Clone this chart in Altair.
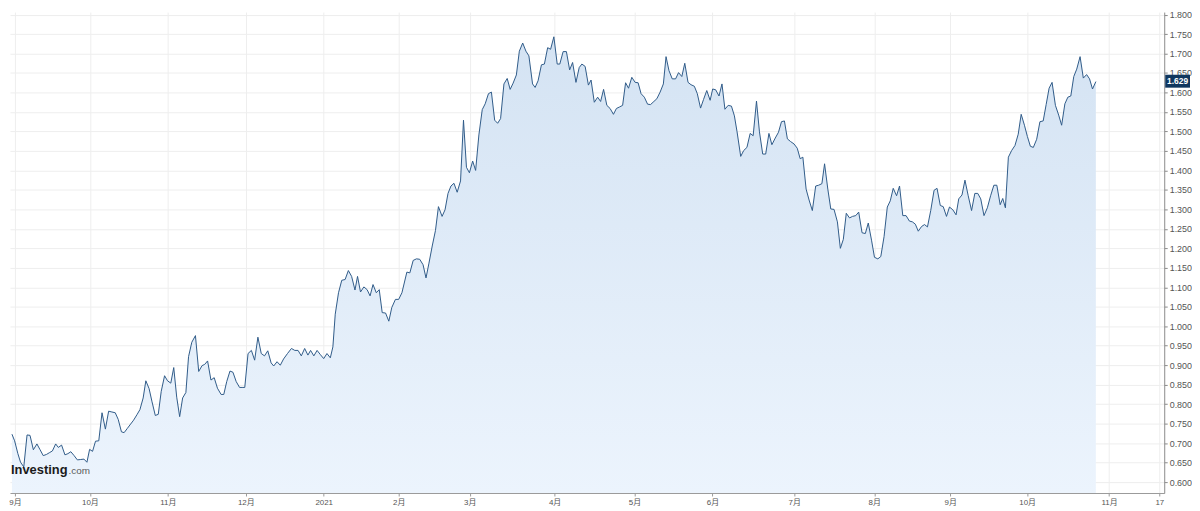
import json
import altair as alt
import pandas as pd

# Trading-session position (chart time units) and 10Y yield (%)
t = [4.0, 6.7, 10.0, 12.7, 16.0, 19.3, 22.3, 25.7, 29.3, 32.3, 35.7, 39.0, 42.3, 45.0, 48.3, 51.0, 54.3, 57.7, 60.7, 63.7,
     67.0, 70.3, 73.7, 77.0, 80.0, 82.7, 85.7, 88.7, 92.0, 95.3, 98.7, 102.0, 105.3, 108.7, 111.7, 115.0, 117.7, 121.0, 124.3, 127.3,
     130.7, 133.7, 137.0, 139.7, 143.0, 146.0, 149.3, 152.3, 155.3, 158.7, 161.7, 165.0, 168.0, 171.0, 174.0, 177.0, 180.3, 183.0, 186.3, 190.0,
     193.3, 196.7, 199.3, 202.3, 205.7, 209.0, 212.3, 216.0, 218.7, 221.7, 225.0, 228.0, 231.3, 234.7, 237.3, 240.0, 243.3, 246.7, 250.0, 253.3,
     256.7, 260.0, 263.3, 266.7, 269.3, 272.7, 276.0, 279.3, 283.3, 287.3, 290.7, 294.0, 297.3, 300.7, 304.0, 306.7, 310.0, 313.3, 316.7, 320.0,
     323.3, 326.7, 329.3, 331.7, 335.0, 338.3, 341.7, 345.0, 348.3, 351.7, 354.3, 357.3, 360.7, 364.0, 367.0, 370.0, 373.3, 376.3, 379.3, 382.7,
     386.0, 389.0, 392.7, 396.0, 399.3, 404.3, 407.3, 410.7, 414.0, 417.3, 420.7, 423.7, 426.7, 430.0, 433.3, 436.3, 440.0, 443.0, 446.0, 449.0,
     452.0, 455.3, 458.7, 461.7, 464.7, 467.7, 471.0, 474.0, 477.3, 480.7, 483.7, 487.0, 490.0, 493.3, 496.3, 499.3, 502.7, 506.0, 509.0, 512.0,
     515.3, 518.3, 521.7, 525.0, 528.0, 531.7, 534.3, 537.3, 540.7, 543.7, 547.0, 550.0, 553.3, 556.7, 559.3, 562.7, 566.0, 569.3, 572.3, 575.7,
     579.0, 581.7, 585.0, 588.3, 591.0, 594.3, 597.7, 600.7, 603.7, 607.0, 610.3, 613.7, 616.7, 620.0, 623.0, 626.0, 629.0, 632.3, 635.7, 638.7,
     641.7, 645.0, 648.3, 651.3, 654.7, 657.7, 661.0, 664.3, 667.0, 670.0, 673.3, 676.7, 679.7, 683.0, 686.0, 689.3, 692.3, 695.7, 698.7, 702.0,
     705.0, 708.3, 711.7, 714.3, 717.3, 720.7, 723.7, 726.7, 730.0, 733.3, 736.3, 739.0, 742.7, 745.7, 749.0, 752.3, 755.3, 758.7, 761.7, 765.0,
     768.0, 771.3, 774.3, 777.7, 781.0, 784.0, 787.0, 790.0, 793.3, 796.7, 800.0, 803.0, 805.7, 809.0, 812.0, 815.3, 818.7, 821.7, 825.0, 827.7,
     831.0, 834.0, 837.3, 840.7, 843.7, 846.7, 849.7, 853.0, 856.0, 859.3, 862.3, 865.7, 869.0, 872.0, 875.3, 878.3, 881.7, 884.7, 888.0, 891.3,
     894.3, 897.3, 900.7, 903.7, 907.0, 910.3, 913.7, 916.7, 919.7, 922.7, 926.0, 929.0, 932.0, 935.3, 938.7, 941.7, 945.0, 948.0, 951.3, 954.3,
     957.7, 961.0, 963.7, 967.0, 970.0, 973.3, 976.7, 980.0, 983.0, 986.0, 989.3, 992.7, 996.0, 999.3, 1002.3, 1005.7, 1008.3, 1011.0, 1014.0, 1017.3,
     1020.7, 1024.0, 1027.0, 1030.3, 1033.3, 1036.3, 1039.3, 1042.7, 1046.0, 1049.3, 1052.3, 1055.3, 1058.3, 1061.7, 1065.0, 1068.0, 1071.3, 1074.3, 1077.3, 1080.3,
     1083.3, 1086.7, 1090.0, 1093.3, 1096.3, 1099.3, 1102.7]

yld = [0.723, 0.706, 0.673, 0.651, 0.639, 0.721, 0.720, 0.683, 0.698, 0.684, 0.668, 0.671, 0.676, 0.680, 0.698, 0.689, 0.695, 0.670, 0.673, 0.678,
       0.668, 0.657, 0.658, 0.659, 0.651, 0.684, 0.679, 0.705, 0.706, 0.778, 0.736, 0.782, 0.780, 0.778, 0.761, 0.729, 0.727, 0.738, 0.749, 0.759,
       0.773, 0.786, 0.816, 0.860, 0.840, 0.806, 0.771, 0.774, 0.833, 0.873, 0.860, 0.854, 0.894, 0.818, 0.768, 0.816, 0.830, 0.922, 0.959, 0.976,
       0.884, 0.899, 0.902, 0.911, 0.862, 0.868, 0.841, 0.825, 0.825, 0.858, 0.885, 0.882, 0.858, 0.843, 0.843, 0.843, 0.930, 0.938, 0.913, 0.972,
       0.930, 0.924, 0.937, 0.906, 0.898, 0.909, 0.900, 0.916, 0.930, 0.943, 0.938, 0.938, 0.924, 0.943, 0.926, 0.938, 0.924, 0.938, 0.927, 0.917,
       0.930, 0.919, 0.947, 1.031, 1.086, 1.118, 1.120, 1.143, 1.128, 1.093, 1.128, 1.088, 1.101, 1.094, 1.078, 1.107, 1.086, 1.094, 1.035, 1.034,
       1.013, 1.048, 1.069, 1.069, 1.086, 1.139, 1.137, 1.169, 1.173, 1.172, 1.158, 1.124, 1.162, 1.206, 1.246, 1.307, 1.282, 1.299, 1.341, 1.360,
       1.367, 1.344, 1.373, 1.529, 1.408, 1.394, 1.424, 1.400, 1.491, 1.556, 1.571, 1.597, 1.601, 1.529, 1.521, 1.533, 1.622, 1.636, 1.608, 1.624,
       1.645, 1.706, 1.727, 1.706, 1.694, 1.622, 1.613, 1.630, 1.671, 1.673, 1.715, 1.711, 1.743, 1.673, 1.673, 1.705, 1.705, 1.658, 1.677, 1.626,
       1.664, 1.673, 1.667, 1.619, 1.632, 1.575, 1.588, 1.577, 1.608, 1.567, 1.559, 1.544, 1.559, 1.563, 1.567, 1.625, 1.611, 1.639, 1.626, 1.625,
       1.597, 1.588, 1.570, 1.569, 1.577, 1.584, 1.601, 1.622, 1.692, 1.656, 1.635, 1.635, 1.651, 1.641, 1.675, 1.626, 1.620, 1.616, 1.597, 1.560,
       1.582, 1.605, 1.580, 1.609, 1.607, 1.591, 1.622, 1.557, 1.567, 1.565, 1.540, 1.499, 1.436, 1.451, 1.459, 1.495, 1.489, 1.578, 1.499, 1.442,
       1.442, 1.495, 1.466, 1.483, 1.498, 1.525, 1.527, 1.481, 1.474, 1.468, 1.457, 1.430, 1.434, 1.352, 1.324, 1.297, 1.360, 1.362, 1.366, 1.417,
       1.352, 1.301, 1.300, 1.268, 1.200, 1.223, 1.290, 1.278, 1.282, 1.284, 1.293, 1.240, 1.238, 1.265, 1.221, 1.177, 1.173, 1.179, 1.230, 1.306,
       1.322, 1.354, 1.335, 1.360, 1.284, 1.284, 1.270, 1.268, 1.262, 1.244, 1.256, 1.261, 1.255, 1.297, 1.349, 1.354, 1.310, 1.307, 1.282, 1.306,
       1.299, 1.286, 1.327, 1.337, 1.375, 1.335, 1.297, 1.341, 1.341, 1.327, 1.284, 1.304, 1.335, 1.362, 1.362, 1.312, 1.328, 1.304, 1.434, 1.451,
       1.464, 1.493, 1.544, 1.516, 1.487, 1.462, 1.459, 1.480, 1.525, 1.527, 1.569, 1.611, 1.626, 1.567, 1.542, 1.516, 1.571, 1.588, 1.591, 1.641,
       1.660, 1.692, 1.637, 1.646, 1.635, 1.609, 1.628]

# Month boundaries on the time axis and their labels
month_t = [7, 83, 162, 241, 320, 396, 468, 554, 635, 714, 797, 878, 955, 1033, 1116, 1167]
month_labels = ["9月", "10月", "11月", "12月", "2021", "2月", "3月", "4月", "5月", "6月",
                "7月", "8月", "9月", "10月", "11月", "17"]

y_ticks = [round(0.6 + 0.05 * i, 3) for i in range(25)]
last_value = 1.629

X_DOMAIN = [2, 1172]
Y_DOMAIN = [0.5720, 1.8064]
W, H = 1164, 485

df = pd.DataFrame({"t": t, "y": yld})

FONT = "Liberation Sans, Arial, 'Noto Sans CJK SC', sans-serif"

label_expr = "{}[indexof({}, datum.value)]".format(
    json.dumps(month_labels, ensure_ascii=False), json.dumps(month_t))

x_scale = alt.Scale(domain=X_DOMAIN, nice=False, zero=False)
y_scale = alt.Scale(domain=Y_DOMAIN, nice=False, zero=False)

x_axis = alt.Axis(
    values=month_t, labelExpr=label_expr, title=None, grid=True,
    gridColor="#eeeeee", gridWidth=1, domainColor="#9a9a9a",
    tickColor="#9a9a9a", tickSize=3, labelFontSize=8, labelColor="#555555",
    labelFont=FONT, labelPadding=3, labelFlush=False, labelOverlap=False,
    labelFontWeight={"expr": "datum.label == '2021' ? 'bold' : 'normal'"},
)
y_axis = alt.Axis(
    orient="right", values=y_ticks, format=".3f", title=None, grid=True,
    gridColor="#eeeeee", gridWidth=1, domainColor="#8a8a8a",
    tickColor="#8a8a8a", tickSize=3, labelFontSize=9, labelColor="#555555",
    labelFont=FONT, labelPadding=2, labelFlush=False, labelOverlap=False,
    tickCount=len(y_ticks),
)

x_enc = alt.X("t:Q", scale=x_scale, axis=x_axis)
y_enc = alt.Y("y:Q", scale=y_scale, axis=y_axis)

gradient = alt.Gradient(
    gradient="linear",
    stops=[alt.GradientStop(color="#ecf4fd", offset=0),
           alt.GradientStop(color="#d4e3f3", offset=1)],
    x1=1, x2=1, y1=1, y2=0,
)

base = alt.Chart(df)
area = base.mark_area(color=gradient, clip=True).encode(
    x=x_enc, y=y_enc, y2=alt.Y2(datum=Y_DOMAIN[0])
)
line = base.mark_line(color="#2f5a88", strokeWidth=1, clip=True).encode(
    x=x_enc, y=y_enc
)

last_df = pd.DataFrame({"y": [last_value], "hi": [last_value + 0.0166],
                        "lo": [last_value - 0.0166], "txt": [f"{last_value:.3f}"]})
box = alt.Chart(last_df).mark_rect(color="#10375f").encode(
    x=alt.value(W + 1), x2=alt.value(W + 26),
    y=alt.Y("hi:Q", scale=y_scale, axis=y_axis), y2="lo:Q"
)
box_txt = alt.Chart(last_df).mark_text(
    color="white", fontSize=8.5, fontWeight="bold", font=FONT, align="center", baseline="middle"
).encode(x=alt.value(W + 13.5), y=y_enc, text="txt:N")

logo_df = pd.DataFrame({"a": ["Investing"], "b": [".com"]})
logo1 = alt.Chart(logo_df).mark_text(
    fontSize=13, fontWeight="bold", font=FONT, color="#1b1b1b", align="left", baseline="alphabetic"
).encode(x=alt.value(1), y=alt.value(466), text="a:N")
logo2 = alt.Chart(logo_df).mark_text(
    fontSize=10, font=FONT, color="#5a5a5a", align="left", baseline="alphabetic"
).encode(x=alt.value(59), y=alt.value(466), text="b:N")

chart = alt.layer(area, line, box, box_txt, logo1, logo2).properties(
    width=W, height=H, padding=0, background="white"
).configure_view(stroke=None)

chart.save("out.html", embed_options={"renderer": "svg", "actions": False})
